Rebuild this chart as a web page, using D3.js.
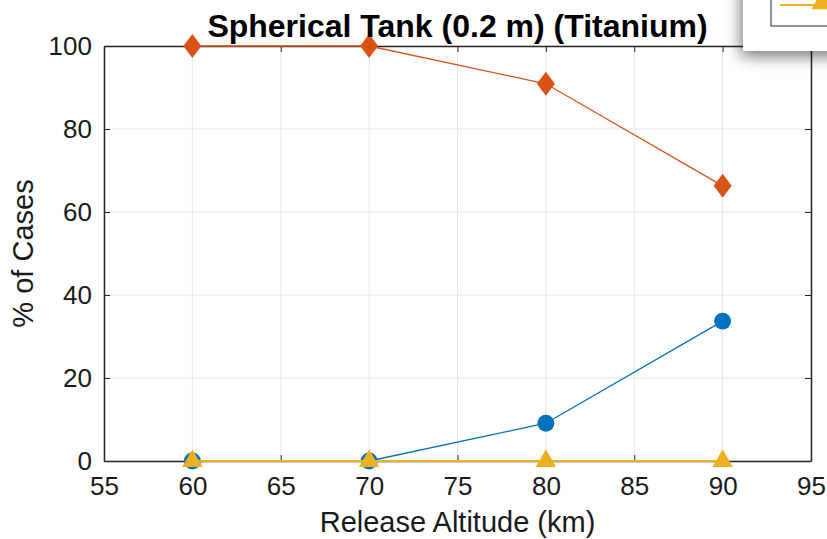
<!DOCTYPE html>
<html>
<head>
<meta charset="utf-8">
<script src="https://cdn.jsdelivr.net/npm/d3@7"></script>
<style>
  html, body { margin: 0; padding: 0; background: #fff; }
  svg { display: block; font-family: "Liberation Sans", Arial, sans-serif; }
</style>
</head>
<body>
<svg id="chart" width="827" height="539"></svg>
<script>
// Chart data
const altitudes = [60, 70, 80, 90];
const seriesOrange = [100, 100, 90.9, 66.3];
const seriesBlue = [0, 0, 9.1, 33.7];
const seriesYellow = [0, 0, 0, 0];
const xTicks = [55, 60, 65, 70, 75, 80, 85, 90, 95];
const yTicks = [0, 20, 40, 60, 80, 100];

const svg = d3.select('#chart');
const margin = { left: 104, right: 16, top: 46, bottom: 78 };
const width = 827 - margin.left - margin.right;
const height = 539 - margin.top - margin.bottom;

const x = d3.scaleLinear().domain([55, 95]).range([margin.left, margin.left + width]);
const y = d3.scaleLinear().domain([0, 100]).range([margin.top + height, margin.top]);

// Grid
const grid = svg.append('g');
grid.selectAll('.gx').data(xTicks).enter().append('line')
    .attr('x1', d => x(d)).attr('x2', d => x(d))
    .attr('y1', y(0)).attr('y2', y(100))
    .attr('stroke', '#e6e6e6').attr('stroke-width', 1);
grid.selectAll('.gy').data(yTicks).enter().append('line')
    .attr('x1', x(55)).attr('x2', x(95))
    .attr('y1', d => y(d)).attr('y2', d => y(d))
    .attr('stroke', '#e6e6e6').attr('stroke-width', 1);

// Axes (MATLAB style: ticks inside, box)
const axisColor = '#262626';
const xAxis = svg.append('g')
    .attr('transform', `translate(0,${y(0)})`)
    .call(d3.axisBottom(x).tickValues(xTicks).tickSizeInner(-6).tickSizeOuter(0).tickPadding(16));
const yAxis = svg.append('g')
    .attr('transform', `translate(${x(55)},0)`)
    .call(d3.axisLeft(y).tickValues(yTicks).tickSizeInner(-6).tickSizeOuter(0).tickPadding(12));
svg.append('g')
    .attr('transform', `translate(0,${y(100)})`)
    .call(d3.axisTop(x).tickValues(xTicks).tickSizeInner(-6).tickSizeOuter(0).tickFormat(''));
svg.append('g')
    .attr('transform', `translate(${x(95)},0)`)
    .call(d3.axisRight(y).tickValues(yTicks).tickSizeInner(-6).tickSizeOuter(0).tickFormat(''));

svg.selectAll('.domain').attr('stroke', axisColor).attr('stroke-width', 1.5);
svg.selectAll('.tick line').attr('stroke', axisColor);
svg.selectAll('.tick text').attr('fill', '#1a1a1a')
    .attr('font-size', 26)
    .attr('font-family', '"Liberation Sans", Arial, sans-serif');
xAxis.selectAll('.tick text').attr('dy', '0.71em');

// Marker shapes
const diamondWide = {
    draw(ctx, size) {
        const w = 9, h = 12;
        ctx.moveTo(0, -h); ctx.lineTo(w, 0); ctx.lineTo(0, h); ctx.lineTo(-w, 0); ctx.closePath();
    }
};

// Series
const series = [
    { values: seriesBlue, color: '#0072BD', shape: d3.symbolCircle, size: 225, lw: 1.3 },
    { values: seriesOrange, color: '#D95319', shape: diamondWide, size: 1, lw: 1.3 },
    { values: seriesYellow, color: '#EDB120', shape: d3.symbolTriangle, size: 180, lw: 2 }
];
const line = d3.line().x((d, i) => x(altitudes[i])).y(d => y(d));

series.forEach(s => {
    svg.append('path')
        .datum(s.values)
        .attr('d', line)
        .attr('fill', 'none')
        .attr('stroke', s.color)
        .attr('stroke-width', s.lw);
    svg.selectAll(null)
        .data(s.values)
        .enter()
        .append('path')
        .attr('d', d3.symbol().type(s.shape).size(s.size))
        .attr('transform', (d, i) => `translate(${x(altitudes[i])},${y(d)})`)
        .attr('fill', s.color);
});

// Title & labels
svg.append('text')
    .attr('x', (x(55) + x(95)) / 2)
    .attr('y', 37)
    .attr('text-anchor', 'middle')
    .attr('font-size', 32)
    .attr('font-weight', 'bold')
    .attr('fill', '#000')
    .text('Spherical Tank (0.2 m) (Titanium)');

svg.append('text')
    .attr('x', (x(55) + x(95)) / 2)
    .attr('y', 532)
    .attr('text-anchor', 'middle')
    .attr('font-size', 29)
    .attr('fill', '#1a1a1a')
    .text('Release Altitude (km)');

svg.append('text')
    .attr('transform', `translate(33,${(y(0) + y(100)) / 2}) rotate(-90)`)
    .attr('text-anchor', 'middle')
    .attr('font-size', 29)
    .attr('fill', '#1a1a1a')
    .text('% of Cases');

// Partially visible legend window at top right
const defs = svg.append('defs');
const f = defs.append('filter').attr('id', 'shadow').attr('x', '-50%').attr('y', '-50%').attr('width', '200%').attr('height', '200%');
f.append('feGaussianBlur').attr('in', 'SourceAlpha').attr('stdDeviation', 8);
f.append('feOffset').attr('dx', -2).attr('dy', 5).attr('result', 'b');
f.append('feComponentTransfer').append('feFuncA').attr('type', 'linear').attr('slope', 0.55);
const fm = f.append('feMerge');
fm.append('feMergeNode');
fm.append('feMergeNode').attr('in', 'SourceGraphic');

svg.append('rect')
    .attr('x', 743).attr('y', -20).attr('width', 120).attr('height', 71)
    .attr('fill', '#fff').attr('filter', 'url(#shadow)');
svg.append('rect')
    .attr('x', 771).attr('y', -10).attr('width', 80).attr('height', 36)
    .attr('fill', '#fff').attr('stroke', '#262626').attr('stroke-width', 1);
svg.append('line')
    .attr('x1', 780).attr('x2', 818).attr('y1', 5).attr('y2', 5)
    .attr('stroke', '#EDB120').attr('stroke-width', 2);
svg.append('path')
    .attr('d', d3.symbol().type(d3.symbolTriangle).size(200))
    .attr('transform', 'translate(822,3)')
    .attr('fill', '#EDB120');
</script>
</body>
</html>
